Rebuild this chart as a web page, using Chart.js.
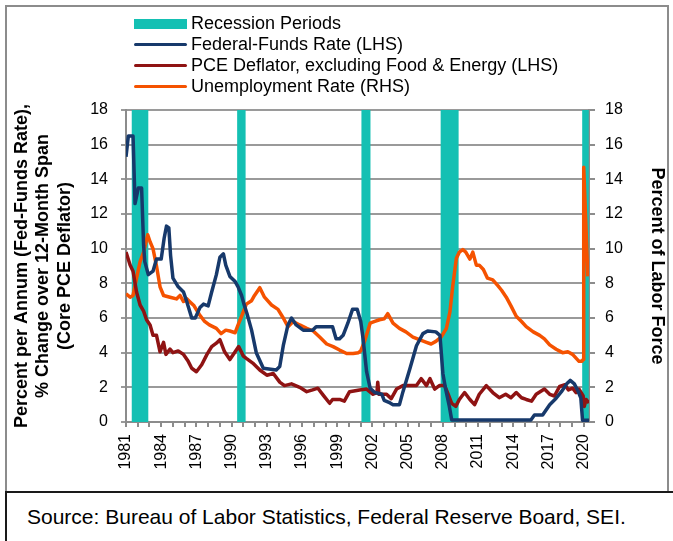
<!DOCTYPE html>
<html>
<head>
<meta charset="utf-8">
<script src="https://cdn.jsdelivr.net/npm/chart.js@4.4.1/dist/chart.umd.min.js"></script>
<style>
  body { margin: 0; background: #fff; font-family: 'Liberation Sans', Arial, sans-serif; }
  #frame { position: absolute; left: 5px; top: 5px; width: 664px; height: 488px; border: 2px solid #8c8c8c; box-sizing: border-box; }
  #source { position: absolute; left: 5px; top: 491px; width: 720px; height: 80px; border-top: 2px solid #1a1a1a; border-left: 2px solid #1a1a1a; box-sizing: border-box; font-size: 21px; padding: 12px 0 0 20px; color: #000; }
  #wrap { position: absolute; left: 0; top: 0; width: 673px; height: 488px; }
  #legend { position: absolute; left: 134px; top: 13px; font-size: 18px; color: #000; }
  .legend-row { height: 21px; display: flex; align-items: center; white-space: nowrap; }
  .legend-mark { width: 53px; margin-right: 4px; }
</style>
</head>
<body>
<div id="frame"></div>
<div id="wrap"><canvas id="chart" width="673" height="488"></canvas></div>
<div id="legend"></div>
<div id="source">Source: Bureau of Labor Statistics, Federal Reserve Board, SEI.</div>
<script>
// values (decimal years)
const fedFundsYears = [1981.0, 1981.2, 1981.6, 1981.77, 1982.05, 1982.33, 1982.5, 1982.6, 1982.9, 1983.3, 1983.6, 1984.0, 1984.25, 1984.45, 1984.65, 1984.8, 1985.0, 1985.45, 1985.9, 1986.2, 1986.6, 1986.9, 1987.3, 1987.6, 1988.0, 1988.3, 1988.7, 1989.0, 1989.3, 1989.5, 1989.85, 1990.3, 1990.55, 1990.85, 1991.05, 1991.3, 1991.7, 1992.1, 1992.7, 1993.8, 1994.1, 1994.4, 1994.8, 1995.1, 1995.5, 1996.1, 1996.9, 1997.2, 1998.6, 1998.9, 1999.2, 1999.5, 1999.9, 2000.3, 2000.7, 2001.0, 2001.2, 2001.5, 2001.8, 2002.2, 2002.8, 2003.0, 2003.5, 2003.75, 2004.3, 2004.6, 2005.2, 2005.75, 2006.3, 2006.7, 2007.4, 2007.75, 2008.0, 2008.25, 2008.55, 2008.75, 2015.5, 2015.8, 2016.5, 2017.1, 2017.65, 2018.1, 2018.55, 2018.85, 2019.2, 2019.5, 2019.75, 2019.9, 2020.45];
const fedFundsRate = [15.3, 16.5, 16.5, 12.6, 13.5, 13.5, 10.2, 9.25, 8.5, 8.7, 9.4, 9.4, 10.6, 11.3, 11.2, 9.6, 8.3, 7.8, 7.5, 6.9, 6.0, 6.0, 6.6, 6.8, 6.7, 7.5, 8.5, 9.5, 9.7, 9.05, 8.4, 8.1, 7.8, 7.3, 6.8, 6.27, 5.3, 4.0, 3.1, 3.0, 3.2, 4.4, 5.6, 6.0, 5.6, 5.3, 5.3, 5.5, 5.5, 4.8, 4.8, 5.0, 5.7, 6.5, 6.5, 5.8, 4.8, 2.9, 1.95, 1.7, 1.6, 1.25, 1.1, 1.0, 1.0, 1.75, 3.1, 4.4, 5.1, 5.25, 5.2, 5.0, 2.8, 1.85, 0.9, 0.12, 0.12, 0.4, 0.4, 1.0, 1.37, 1.75, 2.2, 2.4, 2.2, 1.8, 1.4, 0.1, 0.1];

const pceYears = [1981.0, 1981.35, 1981.6, 1981.9, 1982.2, 1982.5, 1982.75, 1983.05, 1983.3, 1983.6, 1983.9, 1984.2, 1984.4, 1984.75, 1985.0, 1985.45, 1985.9, 1986.3, 1986.6, 1987.0, 1987.45, 1987.9, 1988.3, 1988.7, 1989.0, 1989.4, 1989.85, 1990.3, 1990.6, 1991.0, 1991.25, 1991.8, 1992.4, 1993.0, 1993.55, 1994.1, 1994.5, 1995.1, 1995.8, 1996.4, 1996.9, 1997.35, 1997.8, 1998.35, 1998.6, 1999.2, 1999.6, 2000.05, 2000.9, 2001.5, 2002.05, 2002.38, 2002.45, 2002.55, 2003.2, 2003.6, 2004.05, 2004.6, 2005.2, 2005.75, 2006.15, 2006.6, 2006.9, 2007.3, 2007.7, 2008.15, 2008.45, 2008.75, 2009.1, 2009.4, 2009.85, 2010.3, 2010.7, 2011.1, 2011.7, 2012.25, 2012.8, 2013.35, 2013.8, 2014.25, 2014.7, 2015.1, 2015.55, 2015.95, 2016.65, 2017.1, 2017.5, 2017.95, 2018.4, 2018.7, 2019.05, 2019.35, 2019.6, 2019.95, 2020.05, 2020.2, 2020.45];
const pceDeflator = [9.8, 9.06, 8.7, 7.5, 6.75, 6.4, 5.9, 5.6, 5.0, 5.0, 4.05, 4.6, 3.9, 4.2, 4.0, 4.1, 3.9, 3.5, 3.1, 2.9, 3.3, 3.9, 4.35, 4.55, 4.75, 4.05, 3.6, 4.05, 4.35, 3.8, 3.67, 3.4, 3.0, 2.7, 2.8, 2.3, 2.1, 2.2, 2.0, 1.75, 1.85, 1.95, 1.55, 1.08, 1.3, 1.3, 1.2, 1.75, 1.85, 1.9, 1.6, 1.7, 2.3, 1.6, 1.6, 1.35, 1.9, 2.1, 2.1, 2.1, 2.5, 2.1, 2.5, 1.9, 2.1, 2.1, 1.6, 1.08, 0.9, 1.3, 1.7, 1.3, 1.0, 1.6, 2.1, 1.7, 1.4, 1.6, 1.4, 1.7, 1.4, 1.3, 1.2, 1.6, 1.9, 1.6, 1.5, 2.05, 2.15, 1.85, 1.95, 1.7, 1.9, 1.5, 0.9, 1.3, 1.1];

const unemploymentYears = [1981.0, 1981.35, 1981.6, 1981.9, 1982.2, 1982.5, 1982.85, 1983.05, 1983.3, 1983.6, 1983.9, 1984.2, 1984.75, 1985.3, 1985.6, 1985.9, 1986.2, 1986.5, 1986.8, 1987.25, 1987.7, 1988.1, 1988.7, 1989.1, 1989.5, 1989.85, 1990.3, 1990.55, 1990.85, 1991.25, 1991.7, 1991.95, 1992.4, 1992.8, 1993.4, 1993.95, 1994.4, 1994.8, 1995.25, 1995.8, 1996.4, 1996.95, 1997.5, 1998.1, 1998.65, 1999.2, 1999.8, 2000.35, 2000.8, 2001.0, 2001.35, 2001.8, 2002.2, 2002.6, 2003.0, 2003.3, 2003.75, 2004.3, 2004.85, 2005.45, 2006.0, 2006.6, 2007.0, 2007.4, 2007.85, 2008.3, 2008.6, 2008.85, 2009.15, 2009.4, 2009.7, 2009.95, 2010.3, 2010.55, 2010.85, 2011.1, 2011.45, 2011.8, 2012.25, 2012.7, 2013.0, 2013.4, 2013.8, 2014.25, 2014.7, 2015.1, 2015.7, 2016.25, 2016.65, 2017.1, 2017.65, 2018.2, 2018.65, 2019.05, 2019.6, 2019.85, 2019.95, 2020.0, 2020.35];
const unemploymentRate = [7.4, 7.2, 7.3, 8.3, 9.25, 9.8, 10.8, 10.4, 10.0, 9.0, 7.8, 7.3, 7.2, 7.1, 7.3, 6.95, 7.1, 6.9, 6.7, 6.2, 5.8, 5.6, 5.4, 5.1, 5.3, 5.25, 5.15, 5.6, 6.1, 6.8, 7.0, 7.3, 7.75, 7.2, 6.75, 6.5, 6.0, 5.5, 5.8, 5.6, 5.4, 5.25, 4.9, 4.5, 4.35, 4.15, 3.95, 3.95, 4.0, 4.1, 4.7, 5.7, 5.8, 5.9, 5.95, 6.25, 5.7, 5.4, 5.2, 4.9, 4.75, 4.6, 4.5, 4.65, 4.9, 5.4, 6.35, 7.9, 9.45, 9.8, 9.95, 9.8, 9.4, 9.8, 9.05, 9.05, 8.8, 8.3, 8.2, 7.85, 7.6, 7.2, 6.7, 6.1, 5.8, 5.5, 5.2, 5.0, 4.8, 4.45, 4.2, 4.0, 4.05, 3.9, 3.5, 3.5, 3.6, 14.7, 8.4];

const recessionStarts = [1981.49, 1990.47, 2001.06, 2007.81, 2019.87];
const recessionEnds = [1982.9, 1991.19, 2001.83, 2009.34, 2020.43];

const xTickLabels = ['1981', '1984', '1987', '1990', '1993', '1996', '1999', '2002', '2005', '2008', '2011', '2014', '2017', '2020'];
const yTickValues = [0, 2, 4, 6, 8, 10, 12, 14, 16, 18];

const recessionColor = '#14c0b3';
const gridColor = '#9a9a9a';
const axisColor = '#8c8c8c';
const firstYear = Number(xTickLabels[0]);
const lastYear = Number(xTickLabels[xTickLabels.length - 1]);

const toPoints = (xs, ys) => xs.map((x, i) => ({ x, y: ys[i] }));

// shaded recession bands, drawn over the grid but under the lines
const recessionBands = {
    id: 'recessionBands',
    beforeDatasetsDraw(chart) {
        const { ctx, chartArea, scales } = chart;
        ctx.save();
        ctx.fillStyle = recessionColor;
        recessionStarts.forEach((start, i) => {
            const x0 = scales.x.getPixelForValue(start);
            const x1 = scales.x.getPixelForValue(recessionEnds[i]);
            ctx.fillRect(x0, chartArea.top, x1 - x0, chartArea.bottom - chartArea.top);
        });
        ctx.restore();
    }
};

const tickFont = { family: "'Liberation Sans', Arial, sans-serif", size: 16 };
const titleFont = { family: "'Liberation Sans', Arial, sans-serif", size: 18, weight: 'bold', lineHeight: 1.2 };

const chart = new Chart(document.getElementById('chart'), {
    type: 'line',
    data: {
        datasets: [
            { label: 'Federal-Funds Rate (LHS)', data: toPoints(fedFundsYears, fedFundsRate), borderColor: '#17396b', yAxisID: 'y' },
            { label: 'PCE Deflator, excluding Food & Energy (LHS)', data: toPoints(pceYears, pceDeflator), borderColor: '#8f1313', yAxisID: 'y' },
            { label: 'Unemployment Rate (RHS)', data: toPoints(unemploymentYears, unemploymentRate), borderColor: '#f55200', yAxisID: 'y2' }
        ]
    },
    options: {
        responsive: false,
        animation: false,
        devicePixelRatio: 1,
        elements: {
            line: { borderWidth: 3.5, tension: 0, borderJoinStyle: 'round' },
            point: { radius: 0 }
        },
        layout: { padding: { top: 110, left: 8, right: 2, bottom: 8 } },
        plugins: { legend: { display: false }, tooltip: { enabled: false } },
        scales: {
            x: {
                type: 'linear',
                min: firstYear,
                max: recessionEnds[recessionEnds.length - 1] + 0.02,
                afterBuildTicks(scale) {
                    const ticks = [];
                    for (let yr = firstYear; yr <= lastYear; yr++) ticks.push({ value: yr });
                    scale.ticks = ticks;
                },
                afterFit(scale) { scale.height = 58; },
                ticks: {
                    autoSkip: false,
                    minRotation: 90,
                    maxRotation: 90,
                    padding: 7,
                    color: '#000',
                    font: tickFont,
                    callback: v => xTickLabels.includes(String(v)) ? String(v) : ''
                },
                grid: { drawOnChartArea: false, tickLength: 5, color: axisColor, lineWidth: 2 },
                border: { color: axisColor, width: 2 }
            },
            y: {
                position: 'left',
                min: 0,
                max: 18,
                afterBuildTicks(scale) { scale.ticks = yTickValues.map(v => ({ value: v })); },
                afterFit(scale) { scale.width = 118; },
                ticks: { padding: 13, color: '#000', font: tickFont },
                grid: { color: gridColor, lineWidth: 2, tickLength: 5 },
                border: { color: axisColor, width: 2 },
                title: {
                    display: true,
                    text: ['Percent per Annum (Fed-Funds Rate),', '% Change over 12-Month Span', '(Core PCE Deflator)'],
                    color: '#000',
                    font: titleFont,
                    padding: { top: 3, bottom: 0 }
                }
            },
            y2: {
                position: 'right',
                min: 0,
                max: 18,
                afterBuildTicks(scale) { scale.ticks = yTickValues.map(v => ({ value: v })); },
                afterFit(scale) { scale.width = 82; },
                ticks: { padding: 10, color: '#000', font: tickFont },
                grid: { drawOnChartArea: false, color: axisColor, lineWidth: 2, tickLength: 6 },
                border: { color: axisColor, width: 2 },
                title: {
                    display: true,
                    text: 'Percent of Labor Force',
                    color: '#000',
                    font: titleFont,
                    padding: { top: 3, bottom: 0 }
                }
            }
        }
    },
    plugins: [recessionBands]
});

// legend built from the chart's datasets
const legendItems = [{ label: 'Recession Periods', color: recessionColor, box: true }]
    .concat(chart.data.datasets.map(ds => ({ label: ds.label, color: ds.borderColor, box: false })));
document.getElementById('legend').innerHTML = legendItems.map(item =>
    `<div class="legend-row"><span class="legend-mark" style="height:${item.box ? 10 : 3}px;background:${item.color};${item.box ? '' : 'border-radius:2px;'}"></span>${item.label}</div>`
).join('');
</script>
</body>
</html>
